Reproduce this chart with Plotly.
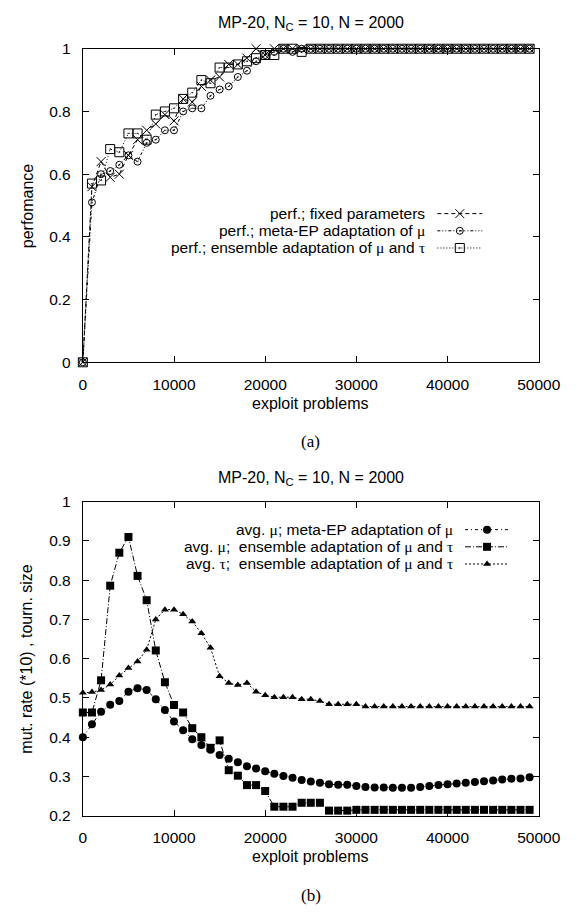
import plotly.graph_objects as go

# ---------------------------------------------------------------- data
problems = [0, 1000, 2000, 3000, 4000, 5000, 6000, 7000, 8000, 9000,
            10000, 11000, 12000, 13000, 14000, 15000, 16000, 17000, 18000, 19000,
            20000, 21000, 22000, 23000, 24000, 25000, 26000, 27000, 28000, 29000,
            30000, 31000, 32000, 33000, 34000, 35000, 36000, 37000, 38000, 39000,
            40000, 41000, 42000, 43000, 44000, 45000, 46000, 47000, 48000, 49000]

# (a) performance
perf_fixed = [0.00, 0.56, 0.64, 0.59, 0.60, 0.66, 0.71, 0.74, 0.76, 0.79,
              0.77, 0.84, 0.83, 0.88, 0.90, 0.91, 0.95, 0.95, 0.97, 1.00,
              0.98, 1.00, 1.00, 1.00, 1.00, 1.00, 1.00, 1.00, 1.00, 1.00,
              1.00, 1.00, 1.00, 1.00, 1.00, 1.00, 1.00, 1.00, 1.00, 1.00,
              1.00, 1.00, 1.00, 1.00, 1.00, 1.00, 1.00, 1.00, 1.00, 1.00]
perf_meta = [0.00, 0.51, 0.60, 0.61, 0.63, 0.66, 0.64, 0.70, 0.71, 0.74,
             0.74, 0.80, 0.81, 0.81, 0.85, 0.87, 0.88, 0.91, 0.93, 0.96,
             0.98, 0.99, 1.00, 0.99, 1.00, 1.00, 1.00, 1.00, 1.00, 1.00,
             1.00, 1.00, 1.00, 1.00, 1.00, 1.00, 1.00, 1.00, 1.00, 1.00,
             1.00, 1.00, 1.00, 1.00, 1.00, 1.00, 1.00, 1.00, 1.00, 1.00]
perf_ensemble = [0.00, 0.57, 0.58, 0.68, 0.67, 0.73, 0.73, 0.71, 0.79, 0.80,
                 0.81, 0.84, 0.86, 0.90, 0.89, 0.94, 0.94, 0.95, 0.96, 0.97,
                 0.98, 0.98, 1.00, 1.00, 0.99, 1.00, 1.00, 1.00, 1.00, 1.00,
                 1.00, 1.00, 1.00, 1.00, 1.00, 1.00, 1.00, 1.00, 1.00, 1.00,
                 1.00, 1.00, 1.00, 1.00, 1.00, 1.00, 1.00, 1.00, 1.00, 1.00]

# (b) average mutation rate (*10) and tournament size
mu_meta = [0.400, 0.433, 0.465, 0.483, 0.492, 0.516, 0.525, 0.520, 0.497, 0.469,
           0.440, 0.418, 0.395, 0.380, 0.368, 0.355, 0.345, 0.336, 0.326, 0.320,
           0.313, 0.307, 0.301, 0.297, 0.291, 0.287, 0.284, 0.280, 0.279, 0.279,
           0.276, 0.273, 0.272, 0.272, 0.271, 0.271, 0.271, 0.273, 0.276, 0.278,
           0.280, 0.282, 0.284, 0.286, 0.288, 0.290, 0.292, 0.294, 0.295, 0.298]
mu_ensemble = [0.463, 0.463, 0.545, 0.786, 0.870, 0.910, 0.811, 0.749, 0.621, 0.540,
               0.482, 0.463, 0.423, 0.400, 0.373, 0.392, 0.316, 0.302, 0.278, 0.278,
               0.263, 0.223, 0.223, 0.223, 0.233, 0.233, 0.233, 0.213, 0.213, 0.213,
               0.215, 0.215, 0.215, 0.215, 0.215, 0.215, 0.215, 0.215, 0.215, 0.215,
               0.215, 0.215, 0.215, 0.215, 0.215, 0.215, 0.215, 0.215, 0.215, 0.215]
tau_ensemble = [0.513, 0.515, 0.520, 0.534, 0.557, 0.576, 0.593, 0.623, 0.700, 0.725,
                0.725, 0.713, 0.695, 0.665, 0.628, 0.555, 0.538, 0.533, 0.538, 0.516,
                0.507, 0.502, 0.502, 0.502, 0.497, 0.497, 0.492, 0.484, 0.484, 0.484,
                0.484, 0.478, 0.478, 0.478, 0.478, 0.478, 0.478, 0.478, 0.478, 0.478,
                0.478, 0.478, 0.478, 0.478, 0.478, 0.478, 0.478, 0.478, 0.478, 0.478]

# axis ticks
x_ticks = [0, 10000, 20000, 30000, 40000, 50000]
x_tick_labels = ["0", "10000", "20000", "30000", "40000", "50000"]
perf_ticks = [0, 0.2, 0.4, 0.6, 0.8, 1.0]
perf_tick_labels = ["0", "0.2", "0.4", "0.6", "0.8", "1"]
rate_ticks = [0.2, 0.3, 0.4, 0.5, 0.6, 0.7, 0.8, 0.9, 1.0]
rate_tick_labels = ["0.2", "0.3", "0.4", "0.5", "0.6", "0.7", "0.8", "0.9", "1"]

# ---------------------------------------------------------------- layout helpers
W, H = 587, 915
SANS = "Liberation Sans, Arial, Helvetica, sans-serif"
SERIF = "Liberation Serif, Times New Roman, serif"
FS_TICK = 15.5
FS_TEXT = 16
FS_KEY = 15.5


def px_x(p):
    return p / W


def px_y(p):
    return 1 - p / H


def greek(ch):
    return "<span style='font-family:%s'>%s</span>" % ("Liberation Serif", ch)


MU, TAU = greek("μ"), greek("τ")
NB = "\u00a0"

X_DOM = [px_x(82.5), px_x(559.5)]
TOP_DOM = [px_y(360), px_y(40.5)]
BOT_DOM = [px_y(822), px_y(502)]

axis_style = dict(showline=True, linecolor="black", linewidth=1, mirror="ticks",
                  ticks="inside", ticklen=6, tickwidth=1, tickcolor="black",
                  showgrid=False, zeroline=False,
                  tickfont=dict(family=SANS, size=FS_TICK, color="black"))

fig = go.Figure()

# ---------------------------------------------------------------- (a) traces
top_series = [
    (perf_fixed, "4px,3px", dict(symbol="x-thin", size=9, line=dict(width=1, color="black"))),
    (perf_meta, "3px,2px,1px,2px,1px,2px", dict(symbol="circle-open-dot", size=7, line=dict(width=1, color="black"), color="black")),
    (perf_ensemble, "1px,2px", dict(symbol="square-open-dot", size=9, line=dict(width=1, color="black"), color="black")),
]
for ys, dash, mk in top_series:
    fig.add_trace(go.Scatter(x=problems, y=ys, mode="lines+markers", xaxis="x", yaxis="y",
                             line=dict(color="black", width=1, dash=dash), marker=mk,
                             cliponaxis=False, showlegend=False))

# ---------------------------------------------------------------- (b) traces
bot_series = [
    (mu_meta, "3px,3px,1px,3px", dict(symbol="circle", size=8, color="black")),
    (mu_ensemble, "6px,2px,1px,2px", dict(symbol="square", size=8, color="black")),
    (tau_ensemble, "2px,2px", dict(symbol="triangle-up", size=7, color="black")),
]
for ys, dash, mk in bot_series:
    fig.add_trace(go.Scatter(x=problems, y=ys, mode="lines+markers", xaxis="x2", yaxis="y2",
                             line=dict(color="black", width=1, dash=dash), marker=mk,
                             cliponaxis=False, showlegend=False))

# ---------------------------------------------------------------- keys
# rows given as fractions of each plot area's height
top_key = dict(texts=["perf.; fixed parameters",
                      "perf.; meta-EP adaptation of " + MU,
                      "perf.; ensemble adaptation of " + MU + " and " + TAU],
               rows=[0.4742, 0.4194, 0.3646], text_right=0.7545,
               sample=(0.7776, 0.8762), xa="x3", ya="y3", ref="x", yref="y",
               series=top_series)
bot_key = dict(texts=["avg. " + MU + "; meta-EP adaptation of " + MU,
                      "avg. " + MU + ";" + NB + " ensemble adaptation of " + MU + " and " + TAU,
                      "avg. " + TAU + ";" + NB + " ensemble adaptation of " + MU + " and " + TAU],
               rows=[0.9109, 0.8563, 0.8016], text_right=0.8174,
               sample=(0.8384, 0.9349), xa="x4", ya="y4", ref="x2", yref="y2",
               series=bot_series)

annotations = []
for key in (top_key, bot_key):
    x0, x1 = key["sample"]
    for text, row, (_, dash, mk) in zip(key["texts"], key["rows"], key["series"]):
        fig.add_trace(go.Scatter(x=[x0, x1], y=[row, row], mode="lines",
                                 xaxis=key["xa"], yaxis=key["ya"],
                                 line=dict(color="black", width=1, dash=dash),
                                 showlegend=False, hoverinfo="skip"))
        fig.add_trace(go.Scatter(x=[(x0 + x1) / 2], y=[row], mode="markers",
                                 xaxis=key["xa"], yaxis=key["ya"], marker=mk,
                                 cliponaxis=False, showlegend=False, hoverinfo="skip"))
        annotations.append(dict(text=text, x=key["text_right"], y=row,
                                xref=key["ref"] + " domain", yref=key["yref"] + " domain",
                                xanchor="right", yanchor="middle", showarrow=False,
                                font=dict(family=SANS, size=FS_KEY, color="black")))

# ---------------------------------------------------------------- titles and labels
title = "MP-20, N<sub>C</sub> = 10, N = 2000"
mid_x = (X_DOM[0] + X_DOM[1]) / 2
label_font = dict(family=SANS, size=FS_TEXT, color="black")
for text, y in [(title, px_y(15)), (title, px_y(478)),
                ("exploit problems", px_y(402)), ("exploit problems", px_y(864))]:
    annotations.append(dict(text=text, x=mid_x, y=y, xref="paper", yref="paper",
                            xanchor="center", yanchor="middle", showarrow=False, font=label_font))
for text, y in [("(a)", px_y(441)), ("(b)", px_y(903))]:
    annotations.append(dict(text=text, x=mid_x, y=y, xref="paper", yref="paper",
                            xanchor="center", yanchor="middle", showarrow=False,
                            font=dict(family=SERIF, size=17, color="black")))
for text, y in [("perfomance", px_y(200)), ("mut. rate (*10) , tourn. size", px_y(662))]:
    annotations.append(dict(text=text, x=px_x(24), y=y, xref="paper", yref="paper",
                            xanchor="center", yanchor="middle", textangle=-90,
                            showarrow=False, font=label_font))

fig.update_layout(
    width=W, height=H, margin=dict(l=0, r=0, t=0, b=0),
    paper_bgcolor="white", plot_bgcolor="white", showlegend=False,
    xaxis=dict(domain=X_DOM, range=[0, 50000], anchor="y", tickvals=x_ticks,
               ticktext=x_tick_labels, ticklabelstandoff=8, **axis_style),
    yaxis=dict(domain=TOP_DOM, range=[0, 1], anchor="x", tickvals=perf_ticks,
               ticktext=perf_tick_labels, ticklabelstandoff=8, **axis_style),
    xaxis2=dict(domain=X_DOM, range=[0, 50000], anchor="y2", tickvals=x_ticks,
                ticktext=x_tick_labels, ticklabelstandoff=8, **axis_style),
    yaxis2=dict(domain=BOT_DOM, range=[0.2, 1], anchor="x2", tickvals=rate_ticks,
                ticktext=rate_tick_labels, ticklabelstandoff=8, **axis_style),
    xaxis3=dict(overlaying="x", anchor="y3", range=[0, 1], visible=False),
    yaxis3=dict(overlaying="y", anchor="x3", range=[0, 1], visible=False),
    xaxis4=dict(overlaying="x2", anchor="y4", range=[0, 1], visible=False),
    yaxis4=dict(overlaying="y2", anchor="x4", range=[0, 1], visible=False),
    annotations=annotations,
)

fig.write_html("out.html")
